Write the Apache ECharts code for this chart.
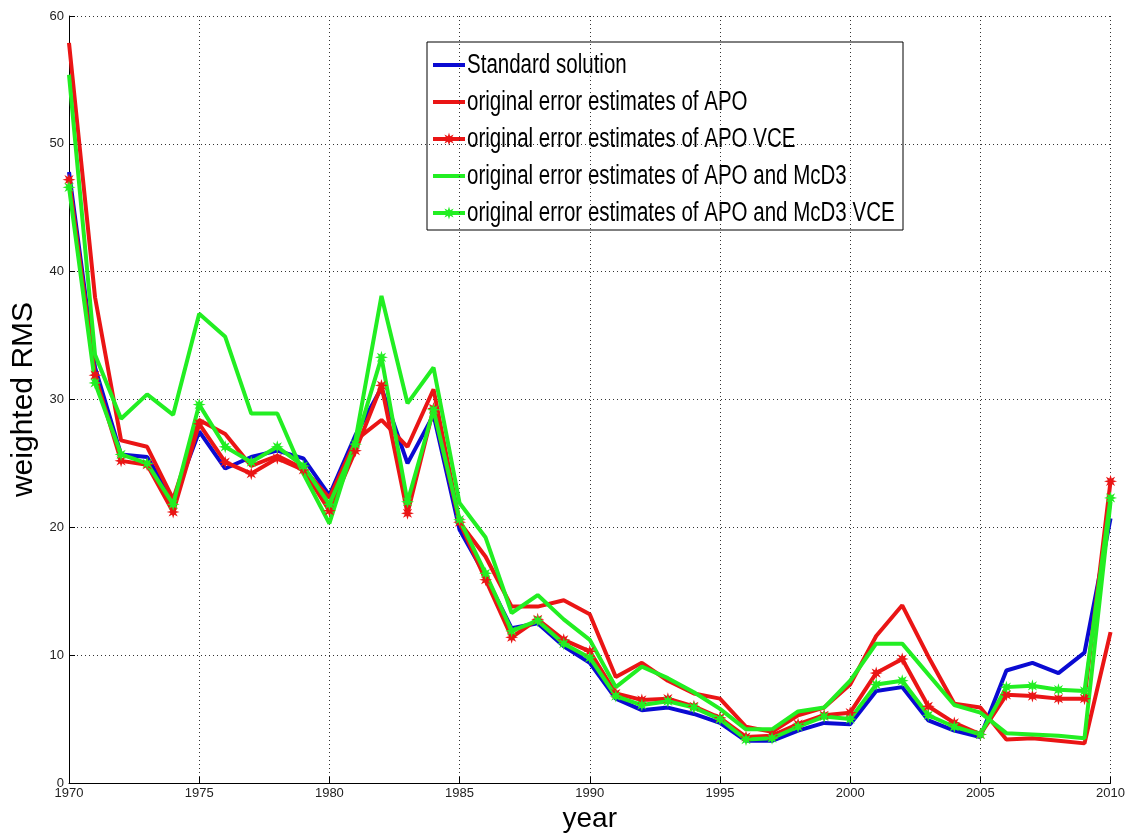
<!DOCTYPE html>
<html>
<head>
<meta charset="utf-8">
<script src="https://cdn.jsdelivr.net/npm/echarts@6/dist/echarts.min.js"></script>
<style>
  html, body { margin: 0; padding: 0; background: #fff; }
  #chart { width: 1128px; height: 838px; }
</style>
</head>
<body>
<div id="chart"></div>
<script>
// years 1970..2010
var years = [];
for (var y = 1970; y <= 2010; y++) years.push(y);

var standardSolution = [47.8, 32.5, 25.7, 25.5, 22.1, 27.5, 24.6, 25.5, 26.0, 25.4,
  22.5, 27.2, 30.9, 25.0, 28.8, 19.8, 16.2, 12.1, 12.5, 10.7,
  9.4, 6.6, 5.7, 5.9, 5.4, 4.7, 3.3, 3.3, 4.1, 4.7,
  4.6, 7.2, 7.5, 4.9, 4.1, 3.6, 8.8, 9.4, 8.6, 10.2, 20.7];

var apo = [57.9, 38.0, 26.8, 26.3, 22.2, 28.4, 27.3, 24.8, 25.6, 24.6,
  22.3, 26.8, 28.4, 26.3, 30.8, 20.4, 17.7, 13.8, 13.8, 14.3,
  13.2, 8.3, 9.4, 8.0, 7.0, 6.6, 4.4, 4.0, 5.3, 5.9,
  7.7, 11.5, 13.9, 9.9, 6.2, 5.9, 3.4, 3.5, 3.3, 3.1, 11.8];

var apoVce = [47.2, 31.9, 25.2, 24.9, 21.2, 28.1, 25.1, 24.2, 25.4, 24.5,
  21.3, 26.0, 31.1, 21.1, 29.3, 20.4, 15.9, 11.4, 12.8, 11.2,
  10.3, 7.0, 6.5, 6.6, 6.0, 5.1, 3.6, 3.7, 4.6, 5.3,
  5.5, 8.6, 9.7, 6.0, 4.7, 3.8, 6.9, 6.8, 6.6, 6.6, 23.6];

var apoMcd3 = [55.4, 33.5, 28.5, 30.4, 28.8, 36.7, 34.9, 28.9, 28.9, 24.2,
  20.3, 26.8, 38.1, 29.7, 32.5, 21.9, 19.2, 13.3, 14.7, 12.8,
  11.2, 7.5, 9.1, 8.2, 7.1, 5.8, 4.2, 4.2, 5.6, 5.9,
  8.0, 10.9, 10.9, 8.5, 6.1, 5.5, 3.9, 3.8, 3.7, 3.5, 22.0];

var apoMcd3Vce = [46.6, 31.3, 25.7, 25.0, 21.8, 29.6, 26.3, 25.1, 26.3, 24.8,
  21.8, 26.5, 33.3, 22.0, 29.2, 20.6, 16.4, 11.9, 12.7, 10.9,
  9.8, 6.8, 6.1, 6.4, 5.9, 5.0, 3.4, 3.5, 4.4, 5.2,
  5.0, 7.7, 8.0, 5.3, 4.4, 3.8, 7.5, 7.6, 7.3, 7.2, 22.3];

var seriesNames = [
  'Standard solution',
  'original error estimates of APO',
  'original error estimates of APO VCE',
  'original error estimates of APO and McD3',
  'original error estimates of APO and McD3 VCE'
];

var BLUE = '#0a0ad2';
var RED = '#ea1515';
var GREEN = '#22ee22';
var seriesColors = [BLUE, RED, RED, GREEN, GREEN];
var seriesMarkers = [false, false, true, false, true];

function pairs(vals) {
  return years.map(function (yr, i) { return [yr, vals[i]]; });
}

// star marker (like matlab '*' drawn with a thick pen)
function starPoints(cx, cy, R) {
  var pts = [];
  for (var k = 0; k < 16; k++) {
    var r = (k % 2 === 0 ? 1 : 0.45) * R;
    var a = k * Math.PI / 8 - Math.PI / 2;
    pts.push([cx + r * Math.cos(a), cy + r * Math.sin(a)]);
  }
  return pts;
}
var star = 'path://M' + starPoints(0, 0, 1).map(function (p) {
  return p[0].toFixed(3) + ',' + p[1].toFixed(3);
}).join(' L') + ' Z';

var textFont = "'Liberation Sans', Arial, sans-serif";

function lineSeries(i, vals) {
  var marker = seriesMarkers[i];
  return {
    name: seriesNames[i],
    type: 'line',
    data: pairs(vals),
    symbol: marker ? star : 'none',
    symbolSize: 13,
    showSymbol: marker,
    lineStyle: { color: seriesColors[i], width: 4 },
    itemStyle: { color: seriesColors[i] },
    z: 2
  };
}

// legend box drawn with graphic elements so the (narrow) text can be squeezed like the original
var legendLeft = 427, legendTop = 42, legendW = 476, legendH = 188;
var legendEls = [{
  type: 'rect',
  shape: { x: legendLeft, y: legendTop, width: legendW, height: legendH },
  style: { fill: '#fff', stroke: '#000', lineWidth: 1 }
}];
seriesNames.forEach(function (name, i) {
  var cy = 65 + i * 37;
  legendEls.push({
    type: 'line',
    shape: { x1: 433, y1: cy, x2: 465, y2: cy },
    style: { stroke: seriesColors[i], lineWidth: 4 }
  });
  if (seriesMarkers[i]) {
    legendEls.push({
      type: 'polygon',
      shape: { points: starPoints(449, cy, 6.5) },
      style: { fill: seriesColors[i] }
    });
  }
  legendEls.push({
    type: 'text',
    x: 467,
    y: cy + 1,
    scaleX: 0.76,
    style: {
      text: name,
      x: 0,
      y: 0,
      font: "27px 'Liberation Sans', Arial, sans-serif",
      fill: '#000',
      align: 'left',
      verticalAlign: 'middle'
    }
  });
});

var myChart = echarts.init(document.getElementById('chart'));
var option = {
  backgroundColor: '#fff',
  animation: false,
  grid: { left: 69, right: 12, top: 16, bottom: 51, containLabel: false },
  xAxis: {
    type: 'value',
    min: 1970,
    max: 2010,
    interval: 5,
    name: 'year',
    nameLocation: 'middle',
    nameGap: 22,
    nameTextStyle: { fontSize: 28, fontFamily: textFont, color: '#000' },
    axisLine: { show: true, onZero: false, lineStyle: { color: '#000', width: 1 } },
    axisTick: { show: true, inside: true, length: 6, lineStyle: { color: '#000' } },
    axisLabel: {
      fontSize: 13, fontFamily: textFont, color: '#222', margin: 4,
      formatter: function (v) { return String(v); }
    },
    splitLine: { show: true, lineStyle: { color: '#333', width: 1, type: [1, 3] } }
  },
  yAxis: {
    type: 'value',
    min: 0,
    max: 60,
    interval: 10,
    name: 'weighted RMS',
    nameLocation: 'middle',
    nameGap: 29,
    nameTextStyle: { fontSize: 30, fontFamily: textFont, color: '#000' },
    axisLine: { show: true, lineStyle: { color: '#000', width: 1 } },
    axisTick: { show: true, inside: true, length: 6, lineStyle: { color: '#000' } },
    axisLabel: { fontSize: 13, fontFamily: textFont, color: '#222', margin: 5 },
    splitLine: { show: true, lineStyle: { color: '#333', width: 1, type: [1, 3] } }
  },
  graphic: { elements: [{ type: 'group', z: 100, children: legendEls }] },
  series: [
    lineSeries(0, standardSolution),
    lineSeries(1, apo),
    lineSeries(2, apoVce),
    lineSeries(3, apoMcd3),
    lineSeries(4, apoMcd3Vce)
  ]
};
myChart.setOption(option);
</script>
</body>
</html>
